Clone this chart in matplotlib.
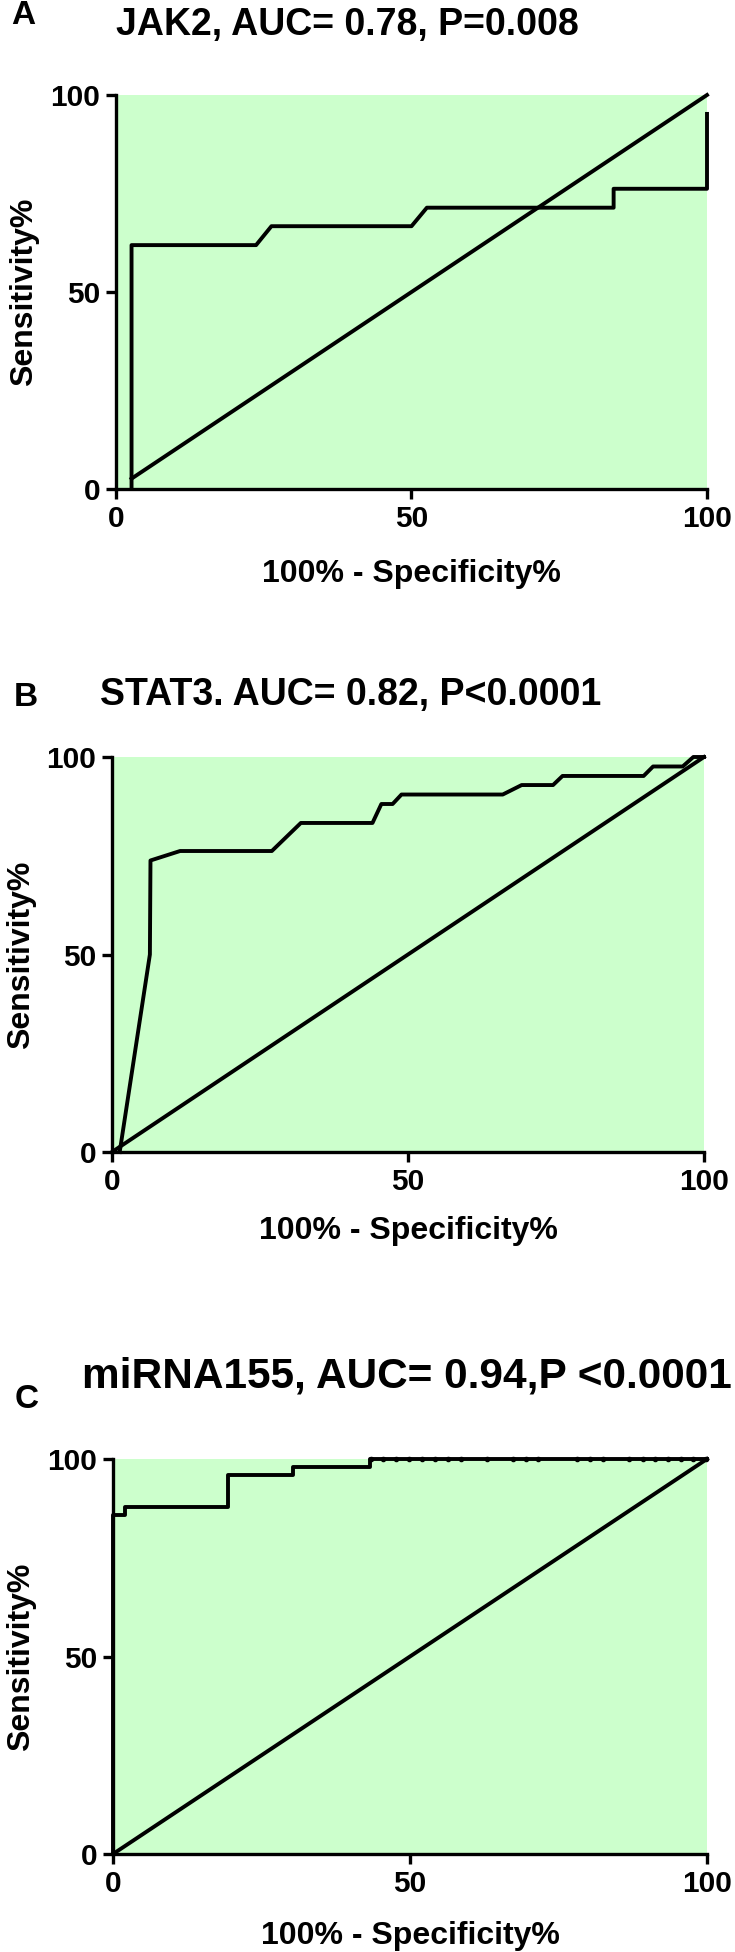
import matplotlib
matplotlib.use("Agg")
import matplotlib.pyplot as plt

plt.rcParams['font.family'] = ['Liberation Sans', 'DejaVu Sans']
plt.rcParams['font.weight'] = 'bold'

ticks = [0, 50, 100]

# panel A - JAK2
jak2_x = [2.63, 2.63, 23.7, 26.3, 50.0, 52.6, 84.2, 84.2, 100, 100]
jak2_y = [0, 61.9, 61.9, 66.7, 66.7, 71.4, 71.4, 76.2, 76.2, 95.2]
jak2_ref_x = [2.63, 100]
jak2_ref_y = [2.63, 100]

# panel B - STAT3
stat3_x = [1.3, 6.4, 6.5, 11.5, 27.0, 31.9, 44.0, 45.5, 47.4, 48.9, 66.0, 69.2,
           74.5, 76.1, 89.8, 91.4, 96.4, 98.2, 100]
stat3_y = [0, 50.0, 73.8, 76.2, 76.2, 83.3, 83.3, 88.1, 88.1, 90.5, 90.5, 92.9,
           92.9, 95.2, 95.2, 97.6, 97.6, 100, 100]
stat3_ref_x = [0, 100]
stat3_ref_y = [0, 100]

# panel C - miRNA155
mir_x = [0, 0, 2.1, 2.1, 19.4, 19.4, 30.3, 30.3, 43.3, 43.3, 100]
mir_y = [0, 85.7, 85.7, 87.8, 87.8, 95.9, 95.9, 98.0, 98.0, 100, 100]
mir_dots_x = [43.4, 45.5, 47.6, 49.9, 52.0, 54.2, 56.4, 58.6, 63.0, 67.4, 69.5,
              71.6, 78.1, 80.3, 82.5, 86.9, 89.2, 91.3, 93.5, 95.6, 97.7, 99.8]
mir_ref_x = [0, 100]
mir_ref_y = [0, 100]

W, H = 735, 1952
fig = plt.figure(figsize=(W / 100, H / 100), dpi=100)


def make_axes(left, right, top, bottom):
    ax = fig.add_axes([left / W, 1 - bottom / H, (right - left) / W, (bottom - top) / H])
    ax.set_facecolor('#ccffcc')
    ax.set_xlim(0, 100)
    ax.set_ylim(0, 100)
    ax.set_xticks(ticks)
    ax.set_yticks(ticks)
    ax.spines['top'].set_visible(False)
    ax.spines['right'].set_visible(False)
    for s in ['left', 'bottom']:
        ax.spines[s].set_linewidth(2.4)
    ax.tick_params(width=2.4, length=7.5, labelsize=21.5, pad=4)
    ax.set_xlabel('100% - Specificity%', fontsize=23, fontweight='bold')
    ax.set_ylabel('Sensitivity%', fontsize=23, fontweight='bold')
    ax.xaxis.label.set_va('center')
    ax.yaxis.label.set_va('center')
    return ax


axA = make_axes(116, 707, 95, 489)
axA.plot(jak2_x, jak2_y, color='black', lw=2.8, clip_on=False)
axA.plot(jak2_ref_x, jak2_ref_y, color='black', lw=2.8, clip_on=False)
axA.xaxis.set_label_coords(0.5, -0.215)
axA.yaxis.set_label_coords(-0.155, 0.5)

axB = make_axes(112, 704, 757, 1152)
axB.plot(stat3_x, stat3_y, color='black', lw=2.8, clip_on=False)
axB.plot(stat3_ref_x, stat3_ref_y, color='black', lw=2.8, clip_on=False)
axB.xaxis.set_label_coords(0.5, -0.2)
axB.yaxis.set_label_coords(-0.154, 0.5)

axC = make_axes(113, 707, 1459, 1854)
axC.plot(mir_x, mir_y, color='black', lw=2.8, clip_on=False)
axC.plot(mir_dots_x, [100] * len(mir_dots_x), 'o', color='black', ms=3, clip_on=False)
axC.plot(mir_ref_x, mir_ref_y, color='black', lw=2.8, clip_on=False)
axC.xaxis.set_label_coords(0.5, -0.208)
axC.yaxis.set_label_coords(-0.155, 0.5)

# titles and panel letters
fig.text(116 / W, 1 - 25 / H, 'JAK2, AUC= 0.78, P=0.008', fontsize=27,
         fontweight='bold', ha='left', va='center')
fig.text(100 / W, 1 - 695 / H, 'STAT3. AUC= 0.82, P<0.0001', fontsize=27,
         fontweight='bold', ha='left', va='center')
fig.text(82 / W, 1 - 1377 / H, 'miRNA155, AUC= 0.94,P <0.0001', fontsize=30.5,
         fontweight='bold', ha='left', va='center')
fig.text(23 / W, 1 - 16 / H, 'A', fontsize=24, fontweight='bold', ha='center', va='center')
fig.text(26 / W, 1 - 697 / H, 'B', fontsize=24, fontweight='bold', ha='center', va='center')
fig.text(27 / W, 1 - 1400 / H, 'C', fontsize=24, fontweight='bold', ha='center', va='center')

fig.savefig('out.png', dpi=100)
